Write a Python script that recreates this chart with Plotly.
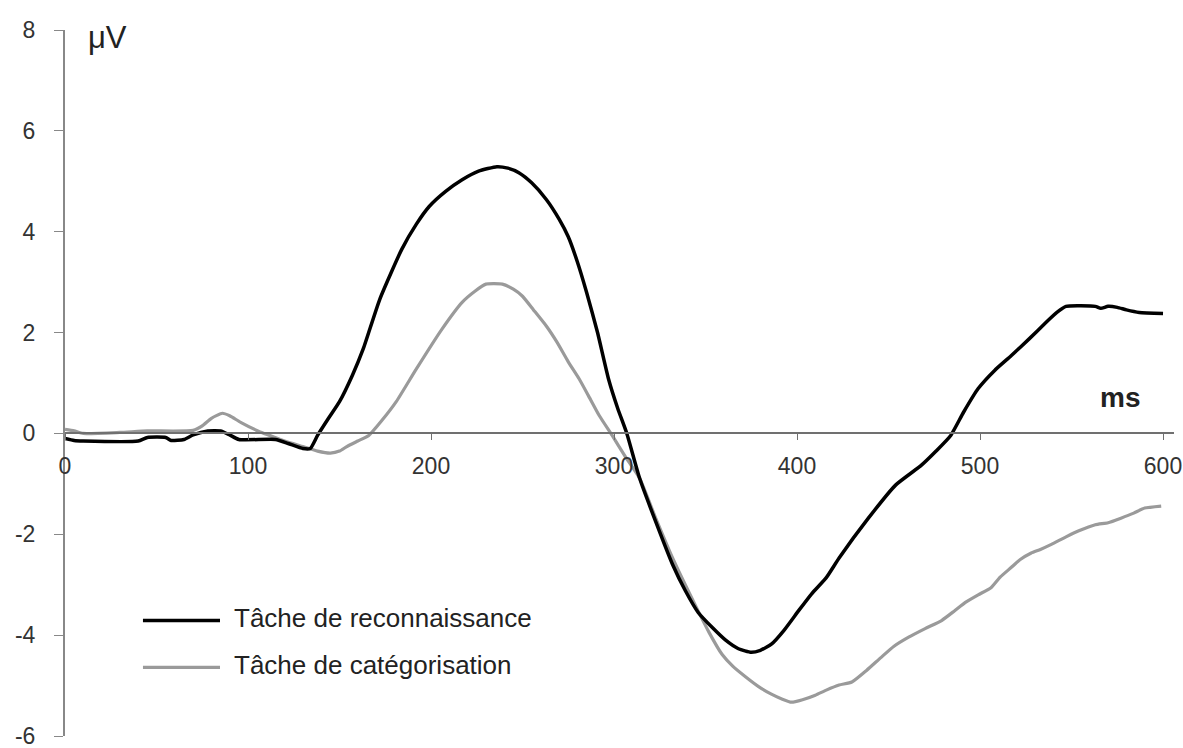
import plotly.graph_objects as go

# ---- data ----
t_reco = [0, 5, 10, 40, 45, 55, 58, 65, 70, 78, 85, 90, 95, 115, 122, 130, 134, 138, 144, 150,
          157, 163, 172, 184, 192, 199, 208, 217, 226, 236, 242, 248, 255, 263, 270, 275, 280,
          285, 291, 297, 302, 307, 314, 323, 332, 339, 346, 354, 361, 368, 375, 380, 386, 393, 401,
          408, 416, 423, 439, 454, 468, 476, 484, 491, 499, 508, 517, 527, 536, 542, 547, 563,
          566, 570, 575, 580, 587, 600]
v_reco = [-0.1, -0.14, -0.15, -0.15, -0.08, -0.08, -0.14, -0.12, -0.03, 0.05, 0.05, -0.03, -0.12,
          -0.12, -0.2, -0.3, -0.3, -0.04, 0.3, 0.63, 1.15, 1.68, 2.66, 3.65, 4.15, 4.5, 4.8, 5.03,
          5.2, 5.29, 5.26, 5.17, 4.97, 4.64, 4.25, 3.9, 3.4, 2.8, 2.0, 1.08, 0.5, 0.0, -0.89, -1.77,
          -2.6, -3.12, -3.55, -3.86, -4.1, -4.27, -4.34, -4.3, -4.18, -3.9, -3.51, -3.18, -2.86, -2.47,
          -1.68, -1.02, -0.63, -0.35, -0.04, 0.42, 0.89, 1.25, 1.54, 1.88, 2.2, 2.4, 2.52, 2.52,
          2.48, 2.52, 2.5, 2.45, 2.4, 2.38]

t_cat = [0, 5, 10, 30, 45, 70, 75, 80, 86, 90, 96, 106, 112, 120, 130, 138, 145, 150, 154, 160,
         166, 173, 181, 192, 206, 217, 224, 230, 239, 245, 250, 256, 263, 269, 275, 281, 286, 292,
         299, 306, 314, 323, 332, 345, 352, 359, 365, 372, 379, 386, 392, 397, 403, 410, 416, 423,
         430, 438, 446, 453, 461, 470, 479, 486, 492, 499, 506, 511, 517, 522, 528, 533, 539, 547,
         554, 563, 570, 577, 584, 590, 599]
v_cat = [0.08, 0.05, 0.0, 0.02, 0.05, 0.06, 0.15, 0.3, 0.4, 0.35, 0.22, 0.04, -0.04, -0.15, -0.26,
         -0.35, -0.39, -0.35, -0.26, -0.15, -0.04, 0.25, 0.63, 1.28, 2.07, 2.6, 2.82, 2.96, 2.96,
         2.86, 2.72, 2.45, 2.13, 1.8, 1.42, 1.08, 0.75, 0.35, -0.04, -0.45, -0.89, -1.7, -2.47,
         -3.45, -3.95, -4.38, -4.62, -4.83, -5.02, -5.17, -5.27, -5.33, -5.28, -5.19, -5.09, -4.99,
         -4.93, -4.7, -4.44, -4.22, -4.04, -3.87, -3.71, -3.52, -3.35, -3.2, -3.06, -2.85, -2.66,
         -2.5, -2.37, -2.3, -2.2, -2.05, -1.93, -1.81, -1.77, -1.68, -1.58, -1.48, -1.44]

series_names = ["Tâche de reconnaissance", "Tâche de catégorisation"]
x_ticks = [0, 100, 200, 300, 400, 500, 600]
y_ticks = [-6, -4, -2, 0, 2, 4, 6, 8]

BLACK = "#000000"
GRAY = "#9a9a9a"
FONT = "Liberation Sans, Arial, sans-serif"

fig = go.Figure()
fig.add_trace(go.Scatter(x=t_cat, y=v_cat, mode="lines", name=series_names[1],
                         line=dict(color=GRAY, width=3.2, shape="spline", smoothing=0.5),
                         showlegend=False))
fig.add_trace(go.Scatter(x=t_reco, y=v_reco, mode="lines", name=series_names[0],
                         line=dict(color=BLACK, width=3.5, shape="spline", smoothing=0.5),
                         showlegend=False))

# custom legend (long line samples, as in the reference)
leg_y = [-3.71, -4.64]
leg_col = [BLACK, GRAY]
leg_w = [3.5, 3.2]
for i in range(2):
    fig.add_shape(type="line", xref="x", yref="y", x0=42.6, x1=84.7, y0=leg_y[i], y1=leg_y[i],
                  line=dict(color=leg_col[i], width=leg_w[i]))
    fig.add_annotation(x=91.5, y=leg_y[i] + 0.05, xref="x", yref="y", text=series_names[i],
                       showarrow=False, xanchor="left", yanchor="middle",
                       font=dict(family=FONT, size=26, color="#222222"))

fig.add_annotation(x=11.5, y=7.85, xref="x", yref="y", text="μV", showarrow=False,
                   xanchor="left", yanchor="middle",
                   font=dict(family=FONT, size=31, color="#222222"))
fig.add_annotation(x=576.5, y=0.72, xref="x", yref="y", text="<b>ms</b>", showarrow=False,
                   xanchor="center", yanchor="middle",
                   font=dict(family=FONT, size=28, color="#222222"))

fig.update_layout(
    width=1183, height=748,
    margin=dict(l=65, r=9, t=30, b=12),
    plot_bgcolor="white", paper_bgcolor="white",
    showlegend=False,
    font=dict(family=FONT, color="#333333"),
    xaxis=dict(range=[0, 606], anchor="free", position=6 / 14, automargin=False,
               showline=True, linecolor="#707070", linewidth=1.5,
               ticks="outside", ticklen=6, tickwidth=1.3, tickcolor="#707070",
               tickvals=x_ticks, ticktext=[str(v) for v in x_ticks],
               tickfont=dict(family=FONT, size=23, color="#333333"),
               ticklabelstandoff=6, ticklabeloverflow="allow",
               showgrid=False, zeroline=False, fixedrange=True),
    yaxis=dict(range=[-6, 8], automargin=False, showline=True, linecolor="#888888", linewidth=2,
               ticks="outside", ticklen=9, tickwidth=1.3, tickcolor="#888888",
               tickvals=y_ticks, ticktext=[str(v) for v in y_ticks],
               tickfont=dict(family=FONT, size=23, color="#333333"),
               ticklabelstandoff=14, ticklabeloverflow="allow",
               showgrid=False, zeroline=False, fixedrange=True),
)

fig.write_html("out.html", config={"displayModeBar": False},
               post_script="document.body.style.margin='0px';document.body.style.overflow='hidden';")
